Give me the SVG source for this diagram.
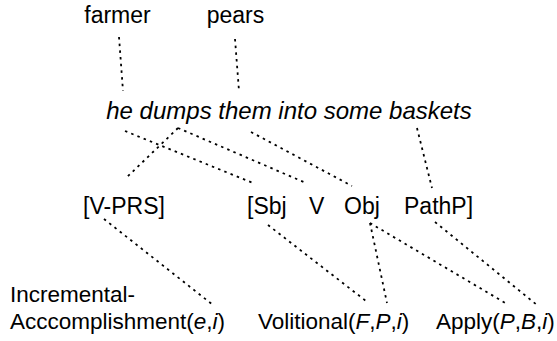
<svg xmlns="http://www.w3.org/2000/svg" width="557" height="341" viewBox="0 0 557 341">
<style>
text{font-family:"Liberation Sans",Arial,sans-serif;font-size:23px;fill:#000}
.it{font-style:italic}
.s{font-size:24px}
.b{font-size:22.5px}
.c line{stroke:#000;stroke-width:1.8;stroke-dasharray:2.5 4.2;fill:none}
</style>
<rect width="557" height="341" fill="#fff"/>
<g id="farmer"><text x="117.5" y="23" text-anchor="middle">farmer</text></g>
<g id="pears"><text x="235.5" y="23" text-anchor="middle">pears</text></g>
<g id="sentence"><text class="it s" x="289" y="119" text-anchor="middle">he dumps them into some baskets</text></g>
<g id="vprs"><text x="124" y="214" text-anchor="middle">[V-PRS]</text></g>
<g id="sbj"><text x="247" y="214">[Sbj</text></g>
<g id="v"><text x="309" y="214">V</text></g>
<g id="obj"><text x="344" y="214">Obj</text></g>
<g id="pathp"><text x="404" y="214">PathP]</text></g>
<g id="incacc"><text class="b" x="10" y="302">Incremental-</text><text class="b" x="10" y="329">Acccomplishment(<tspan class="it">e</tspan>,<tspan class="it">i</tspan>)</text></g>
<g id="volitional"><text class="b" x="258" y="329">Volitional(<tspan class="it">F</tspan>,<tspan class="it">P</tspan>,<tspan class="it">i</tspan>)</text></g>
<g id="apply"><text class="b" x="436" y="329">Apply(<tspan class="it">P</tspan>,<tspan class="it">B</tspan>,<tspan class="it">i</tspan>)</text></g>
<g id="connectors" class="c">
<line x1="119" y1="37" x2="123" y2="91"/>
<line x1="235" y1="39" x2="239" y2="91"/>
<line x1="125" y1="131" x2="253" y2="183"/>
<line x1="178" y1="128" x2="306" y2="183"/>
<line x1="178" y1="128" x2="125" y2="179"/>
<line x1="251" y1="132" x2="352" y2="186"/>
<line x1="417" y1="128" x2="432" y2="188"/>
<line x1="104" y1="219" x2="213" y2="305"/>
<line x1="268" y1="225" x2="366" y2="301"/>
<line x1="370" y1="223" x2="387" y2="303"/>
<line x1="370" y1="223" x2="507" y2="304"/>
<line x1="435" y1="222" x2="537" y2="305"/>
</g>
</svg>
